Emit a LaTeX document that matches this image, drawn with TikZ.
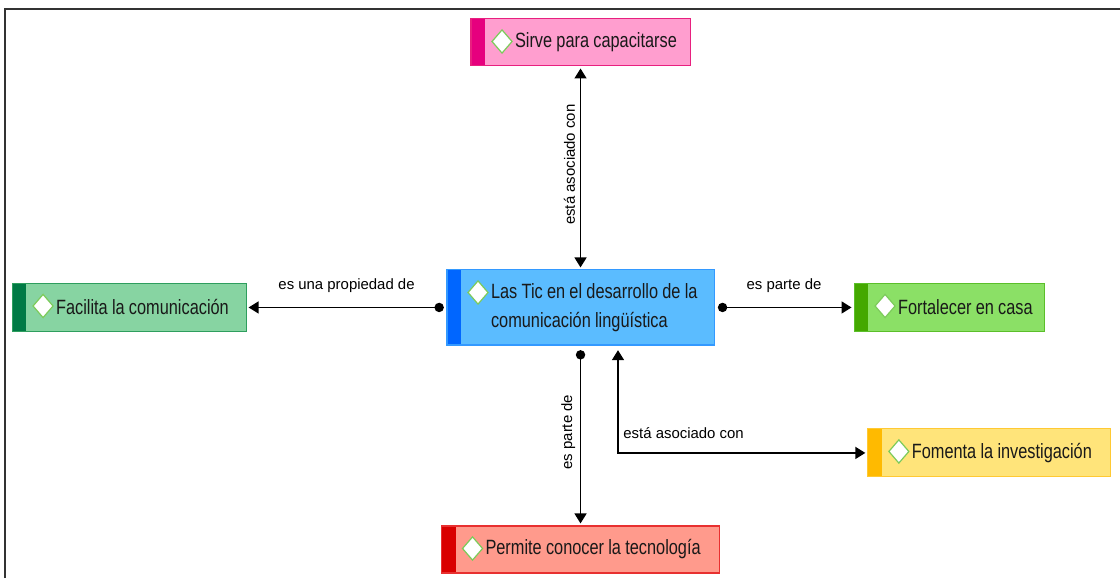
\documentclass[tikz,border=0pt]{standalone}
\usepackage{fontspec}
\setmainfont{Liberation Sans}
\newfontfamily\conceptfont[FakeStretch=0.79]{Liberation Sans}
\usetikzlibrary{positioning, arrows.meta}

\definecolor{pinkfill}{HTML}{FF9ECF}
\definecolor{pinkline}{HTML}{E8207F}
\definecolor{pinkstrip}{HTML}{E6007E}
\definecolor{bluefill}{HTML}{5BBCFF}
\definecolor{blueline}{HTML}{3399FF}
\definecolor{bluestrip}{HTML}{0066FF}
\definecolor{mintfill}{HTML}{87D4A2}
\definecolor{mintline}{HTML}{2E9E5E}
\definecolor{mintstrip}{HTML}{007A45}
\definecolor{limefill}{HTML}{8BE066}
\definecolor{limeline}{HTML}{5BBF2A}
\definecolor{limestrip}{HTML}{44A800}
\definecolor{yellowfill}{HTML}{FFE47A}
\definecolor{yellowline}{HTML}{FFC933}
\definecolor{yellowstrip}{HTML}{FFBA00}
\definecolor{redfill}{HTML}{FF9A8C}
\definecolor{redline}{HTML}{E83030}
\definecolor{redstrip}{HTML}{D90000}
\definecolor{icongreen}{HTML}{7CCB5A}

\newcommand\pad{\hspace*{33pt}}

\tikzset{
  concept/.style n args={3}{rectangle, fill=#1, draw=#2, line width=0.8pt,
    inner xsep=0pt, inner ysep=0pt, align=left, text=black!90,
    font=\conceptfont\fontsize{15.5}{21.75}\selectfont,
    execute at begin node={\spaceskip=3.2pt plus 1pt minus 0.5pt\relax},
    path picture={
      \fill[#3] (path picture bounding box.north west) rectangle ([xshift=10.5pt]path picture bounding box.south west);
      \draw[icon] ([xshift=23.25pt,yshift=-8.2pt]path picture bounding box.north west)
        -- ++(7.5pt,-8.7pt) -- ++(-7.5pt,-8.7pt) -- ++(-7.5pt,8.7pt) -- cycle;
    }},
  icon/.style={fill=white, draw=icongreen, line width=0.9pt},
  link/.style={line width=1.1pt},
  lbl/.style={font=\fontsize{11.2}{13}\selectfont, inner sep=3.5pt},
  tip/.tip={Triangle[length=7.5pt,width=9pt]},
  dot/.tip={Circle[length=7pt]}
}

\begin{document}
\begin{tikzpicture}[on grid]

    \useasboundingbox (-435.4pt,-202.9pt) rectangle (404.6pt,230.6pt);
    \draw[line width=1.1pt, black!80] (-431.6pt,-202.9pt) -- (-431.6pt,223.9pt) -- (404.6pt,223.9pt);

    \node[concept={bluefill}{blueline}{bluestrip}, text width=200.25pt, minimum height=56.25pt] (tic) at (0,0)
        {\pad Las Tic en el desarrollo de la\\\pad comunicación lingüística};
    \node[concept={pinkfill}{pinkline}{pinkstrip}, text width=164.25pt, minimum height=35.25pt] (sirve) [above=198.75pt of tic]
        {\pad Sirve para capacitarse};
    \node[concept={mintfill}{mintline}{mintstrip}, text width=175.5pt, minimum height=36pt] (facilita) [left=338.6pt of tic]
        {\pad Facilita la comunicación};
    \node[concept={limefill}{limeline}{limestrip}, text width=142.5pt, minimum height=36pt] (fortalecer) [right=276.4pt of tic]
        {\pad Fortalecer en casa};
    \node[concept={redfill}{redline}{redstrip}, text width=208.5pt, minimum height=35.25pt] (permite) [below=181.5pt of tic]
        {\pad Permite conocer la tecnología};
    \node[concept={yellowfill}{yellowline}{yellowstrip}, text width=182pt, minimum height=36pt] (fomenta) [below right=109.1pt and 306.5pt of tic]
        {\pad Fomenta la investigación};

    \draw[link, tip-tip, shorten <=1.5pt, shorten >=1.5pt]
        (tic) -- node[lbl, rotate=90, above=2.5pt] {está asociado con} (sirve);
    \draw[link, dot-tip, shorten <=2pt, shorten >=1.5pt]
        (tic) -- node[lbl, above=7pt] {es una propiedad de} (facilita);
    \draw[link, dot-tip, shorten <=2.5pt, shorten >=1.5pt]
        (tic) -- node[lbl, above=7pt] {es parte de} (fortalecer);
    \draw[link, dot-tip, shorten <=3.5pt, shorten >=1.5pt]
        (tic) -- node[lbl, rotate=90, above=2.5pt] {es parte de} (permite);
    \draw[link, tip-tip, shorten <=3.5pt, shorten >=1.5pt]
        ([xshift=28.1pt]tic.south) |- node[lbl, pos=0.5, anchor=south west, yshift=7pt] {está asociado con} (fomenta);

\end{tikzpicture}
\end{document}
